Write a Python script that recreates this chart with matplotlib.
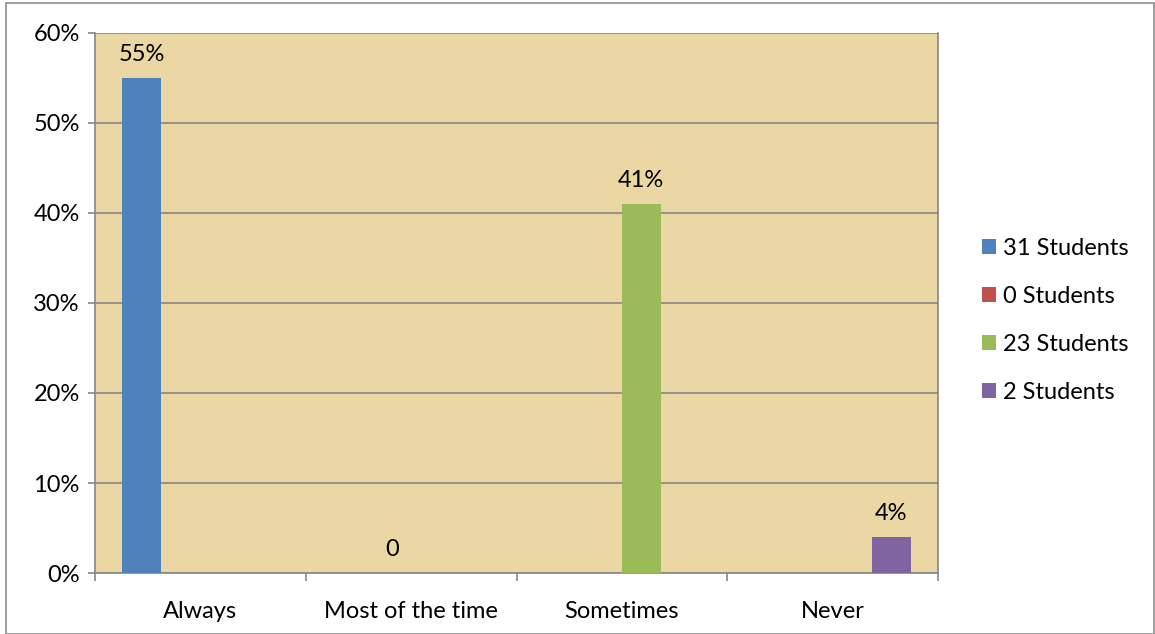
from matplotlib import pyplot as plt
from matplotlib.patches import Rectangle
import numpy as np

categories = ["Always", "Most of the time", "Sometimes", "Never"]
series_names = ["31 Students", "0 Students", "23 Students", "2 Students"]
series_values = [
    [0.55, 0, 0, 0],
    [0, 0.0, 0, 0],
    [0, 0, 0.41, 0],
    [0, 0, 0, 0.04],
]
point_labels = ["55%", "0", "41%", "4%"]
colors = ["#4F81BD", "#C0504D", "#9BBB59", "#8064A2"]

plt.rcParams['font.family'] = ['Lato', 'DejaVu Sans']
fs = 17

fig = plt.figure(figsize=(11.55, 6.34), dpi=100)
ax = fig.add_axes([0.0823, 0.0962, 0.7298, 0.8518])
ax.set_facecolor("#EAD7A3")

# border round the whole chart
fig.patches.append(Rectangle((0.005, 0.0), 0.994, 0.995, transform=fig.transFigure,
                             fill=False, edgecolor="#8C8C8C", linewidth=1.2))

x = np.arange(len(categories))
w = 0.185
for i, (name, vals) in enumerate(zip(series_names, series_values)):
    pos = x + (i - 1.5) * w
    ax.bar(pos, vals, width=w, color=colors[i], label=name, zorder=3)
    ax.text(pos[i], vals[i] + 0.014, point_labels[i], ha="center", va="bottom",
            fontsize=fs, zorder=4)

ax.set_xlim(-0.5, 3.5)
ax.set_ylim(0, 0.6)
ax.set_yticks(np.arange(0, 0.61, 0.1))
ax.set_yticklabels([f"{int(round(v * 100))}%" for v in np.arange(0, 0.61, 0.1)])
ax.yaxis.grid(True, color="#878787", linewidth=1.2, zorder=1)
ax.set_xticks(x)
ax.set_xticklabels(categories)
ax.set_xticks(np.arange(-0.5, 3.6, 1), minor=True)
ax.tick_params(axis="x", which="major", length=0, pad=20, labelsize=fs)
ax.tick_params(axis="x", which="minor", length=6, color="#878787", width=1.2)
ax.tick_params(axis="y", length=5, color="#878787", width=1.2, labelsize=fs, pad=6)
for s in ax.spines.values():
    s.set_color("#878787")
    s.set_linewidth(1.2)
ax.spines["top"].set_visible(False)

ax.legend(loc="center left", bbox_to_anchor=(1.027, 0.468), frameon=False,
          fontsize=fs, handlelength=0.6, handleheight=0.6, handletextpad=0.3,
          labelspacing=1.15)

plt.savefig("out.png", dpi=100)
